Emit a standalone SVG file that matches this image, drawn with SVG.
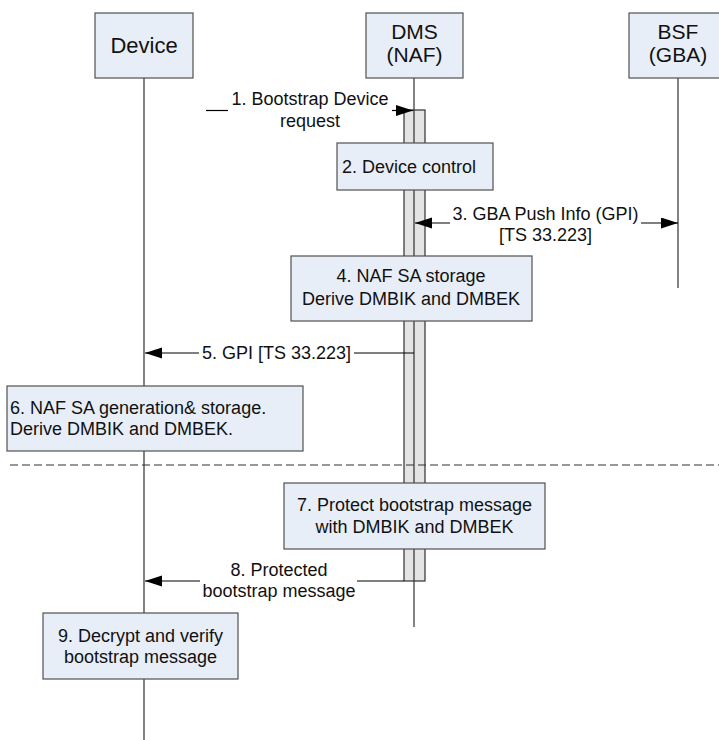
<svg xmlns="http://www.w3.org/2000/svg" width="719" height="740" viewBox="0 0 719 740">
<style>
  .box{fill:#e8eef7;stroke:#505050;stroke-width:1.2}
  .bar{fill:#e4e4e4;stroke:#303030;stroke-width:1.2}
  .life{stroke:#303030;stroke-width:1.2;fill:none}
  .msg{stroke:#000;stroke-width:1.2;fill:none}
  .dash{stroke:#303030;stroke-width:1.2;stroke-dasharray:8 4;fill:none}
  .hdr{font-family:"Liberation Sans",Arial,sans-serif;font-size:21px;fill:#111;text-anchor:middle}
  .t{font-family:"Liberation Sans",Arial,sans-serif;font-size:18px;fill:#111}
  .c{text-anchor:middle}
</style>
<defs>
  <marker id="ah" markerUnits="userSpaceOnUse" markerWidth="18" markerHeight="12" refX="17" refY="5.5" orient="auto">
    <path d="M0,0 L17,5.5 L0,11 z" fill="#000"/>
  </marker>
</defs>

<g id="lifelines">
  <line class="life" x1="144" y1="78" x2="144" y2="740"/>
  <line class="life" x1="414" y1="78" x2="414" y2="627"/>
  <line class="life" x1="678" y1="78" x2="678" y2="288"/>
</g>

<g id="activation">
  <rect class="bar" x="404" y="110" width="21" height="471"/>
  <line class="life" x1="414" y1="110" x2="414" y2="581"/>
</g>

<g id="device">
  <rect class="box" x="95" y="13" width="98" height="65"/>
  <text class="hdr" x="144" y="53" style="font-size:22px">Device</text>
</g>
<g id="dms">
  <rect class="box" x="366" y="13" width="97" height="65"/>
  <text class="hdr" x="414.5" y="39">DMS</text>
  <text class="hdr" x="414.5" y="62">(NAF)</text>
</g>
<g id="bsf">
  <rect class="box" x="629" y="13" width="98" height="65"/>
  <text class="hdr" x="678" y="39">BSF</text>
  <text class="hdr" x="678" y="62">(GBA)</text>
</g>

<g id="connectors">
  <line class="msg" x1="206" y1="110.5" x2="228" y2="110.5"/>
  <line class="msg" x1="392" y1="110.5" x2="413" y2="110.5" marker-end="url(#ah)"/>
  <line class="msg" x1="450" y1="223" x2="415" y2="223" marker-end="url(#ah)"/>
  <line class="msg" x1="641" y1="223" x2="678" y2="223" marker-end="url(#ah)"/>
  <line class="msg" x1="199" y1="353" x2="145" y2="353" marker-end="url(#ah)"/>
  <line class="msg" x1="354" y1="353" x2="414" y2="353"/>
  <line class="msg" x1="200" y1="581" x2="145" y2="581" marker-end="url(#ah)"/>
  <line class="msg" x1="357" y1="581" x2="404" y2="581"/>
  <line class="dash" x1="10" y1="465" x2="719" y2="465"/>
</g>

<g id="msg1">
  <text class="t c" x="310" y="105">1. Bootstrap Device</text>
  <text class="t c" x="310" y="127">request</text>
</g>
<g id="msg3">
  <text class="t c" x="545.5" y="220">3. GBA Push Info (GPI)</text>
  <text class="t c" x="545.5" y="241">[TS 33.223]</text>
</g>
<g id="msg5">
  <text class="t c" x="276.5" y="359">5. GPI [TS 33.223]</text>
</g>
<g id="msg8">
  <text class="t c" x="279" y="576">8. Protected</text>
  <text class="t c" x="279" y="597">bootstrap message</text>
</g>

<g id="step2">
  <rect class="box" x="337" y="143" width="156" height="47"/>
  <text class="t" x="342" y="173">2. Device control</text>
</g>
<g id="step4">
  <rect class="box" x="291" y="256" width="241" height="65"/>
  <text class="t c" x="411" y="282">4. NAF SA storage</text>
  <text class="t c" x="411" y="305">Derive DMBIK and DMBEK</text>
</g>
<g id="step6">
  <rect class="box" x="7" y="386" width="296" height="65"/>
  <text class="t" x="10" y="414">6. NAF SA generation&amp; storage.</text>
  <text class="t" x="10" y="435">Derive DMBIK and DMBEK.</text>
</g>
<g id="step7">
  <rect class="box" x="284" y="483" width="261" height="66"/>
  <text class="t c" x="414.5" y="511">7. Protect bootstrap message</text>
  <text class="t c" x="414.5" y="533">with DMBIK and DMBEK</text>
</g>
<g id="step9">
  <rect class="box" x="43" y="613" width="195" height="66"/>
  <text class="t c" x="140.5" y="642">9. Decrypt and verify</text>
  <text class="t c" x="140.5" y="663">bootstrap message</text>
</g>
</svg>
